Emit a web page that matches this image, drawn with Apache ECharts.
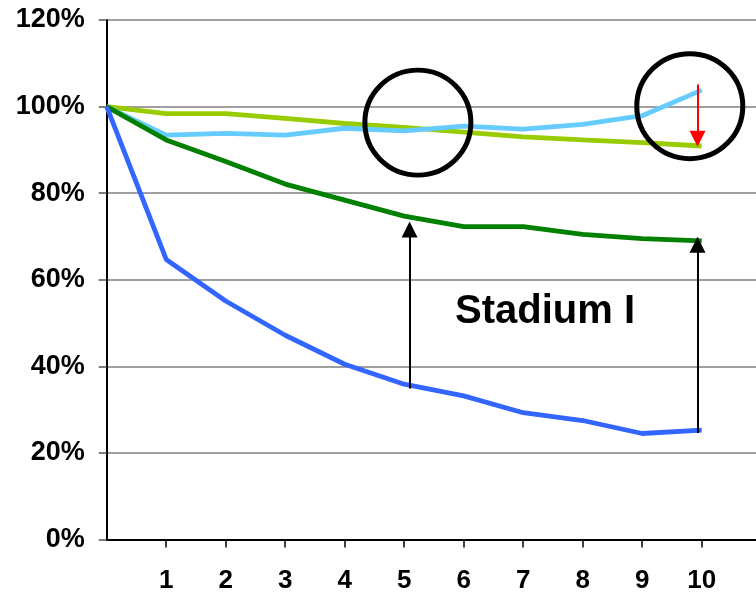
<!DOCTYPE html>
<html>
<head>
<meta charset="utf-8">
<script src="https://cdn.jsdelivr.net/npm/echarts@6/dist/echarts.min.js"></script>
<style>html,body{margin:0;padding:0;background:#fff}#c{width:756px;height:596px}</style>
</head>
<body>
<div id="c"></div>
<script>
var steps = [0,1,2,3,4,5,6,7,8,9,10];
var darkBlue   = [100, 64.7, 55.1, 47.2, 40.5, 35.9, 33.2, 29.3, 27.5, 24.5, 25.3];
var darkGreen  = [100, 92.3, 87.3, 82.1, 78.4, 74.7, 72.3, 72.3, 70.5, 69.5, 69.0];
var lightGreen = [100, 98.4, 98.4, 97.3, 96.1, 95.2, 94.1, 93.0, 92.3, 91.7, 90.9];
var lightBlue  = [100, 93.4, 93.8, 93.4, 95.0, 94.4, 95.5, 94.8, 95.9, 97.9, 103.8];
var yTicks = [0, 20, 40, 60, 80, 100, 120];
var circles = [[5.23, 96.3], [9.8, 100.1]];
var blackArrows = [[5.09, 34.9, 71.6], [9.93, 24.6, 68.1]];
var redArrow = [9.93, 105.1, 92.6];
var annotationText = 'Stadium I';

function pairs(vals){ return steps.map(function(s,i){ return [s, vals[i]]; }); }
var font = '"Liberation Sans", Arial, sans-serif';
function lineSeries(name, vals, color){
  return { name: name, type: 'line', data: pairs(vals), symbol: 'none',
    lineStyle: { color: color, width: 4.8 }, itemStyle: { color: color }, z: 3, animation: false };
}
var chart = echarts.init(document.getElementById('c'), null, {renderer: 'canvas'});
chart.setOption({
  animation: false,
  backgroundColor: '#fff',
  grid: { left: 106.7, top: 20, width: 649.3, height: 519.6, containLabel: false, outerBoundsMode: 'none' },
  xAxis: {
    type: 'value', min: 0, max: 10.913, interval: 1,
    axisLine: { show: true, onZero: false, lineStyle: { color: '#000', width: 2 } },
    axisTick: { show: true, length: 8, lineStyle: { color: '#000', width: 1.5 } },
    splitLine: { show: false },
    axisLabel: { margin: 28, fontSize: 26, fontWeight: 'bold', color: '#000', fontFamily: font,
      showMinLabel: false, showMaxLabel: false,
      formatter: function(v){ return (v >= 1 && v <= 10 && Math.round(v) === v) ? String(v) : ''; } }
  },
  yAxis: {
    type: 'value', min: 0, max: 120, interval: 20,
    axisLine: { show: true, lineStyle: { color: '#000', width: 2 } },
    axisTick: { show: true, length: 8, lineStyle: { color: '#555', width: 1.5 } },
    splitLine: { show: true, lineStyle: { color: '#808080', width: 1.5 } },
    axisLabel: { margin: 22, fontSize: 27, fontWeight: 'bold', color: '#000', fontFamily: font,
      formatter: function(v){ return yTicks.indexOf(v) >= 0 ? v + '%' : ''; } }
  },
  series: [
    lineSeries('A', lightGreen, '#99CC00'),
    lineSeries('B', lightBlue, '#66CCFF'),
    lineSeries('C', darkGreen, '#008000'),
    lineSeries('D', darkBlue, '#3366FF'),
    { type: 'scatter', data: circles, symbol: 'circle', symbolSize: [106, 105],
      itemStyle: { color: 'rgba(0,0,0,0)', borderColor: '#000', borderWidth: 5, opacity: 1 },
      z: 4, silent: true, animation: false },
    { type: 'line', data: [], z: 5, animation: false,
      markLine: { silent: true, animation: false, symbol: ['none', 'triangle'], symbolSize: [16, 16],
        label: { show: false },
        data: blackArrows.map(function(a){
          return [{ coord: [a[0], a[1]], lineStyle: { color: '#000', width: 2, type: 'solid' }, itemStyle: { color: '#000' } },
                  { coord: [a[0], a[2]] }];
        }).concat([[{ coord: [redArrow[0], redArrow[1]], lineStyle: { color: '#FF0000', width: 2, type: 'solid' }, itemStyle: { color: '#FF0000' } },
                    { coord: [redArrow[0], redArrow[2]] }]])
      }
    }
  ],
  graphic: [
    { type: 'text', left: 455, top: 292, z: 10,
      style: { text: annotationText, fontSize: 40, fontWeight: 'bold', fill: '#000', fontFamily: font } }
  ]
});
</script>
</body>
</html>
